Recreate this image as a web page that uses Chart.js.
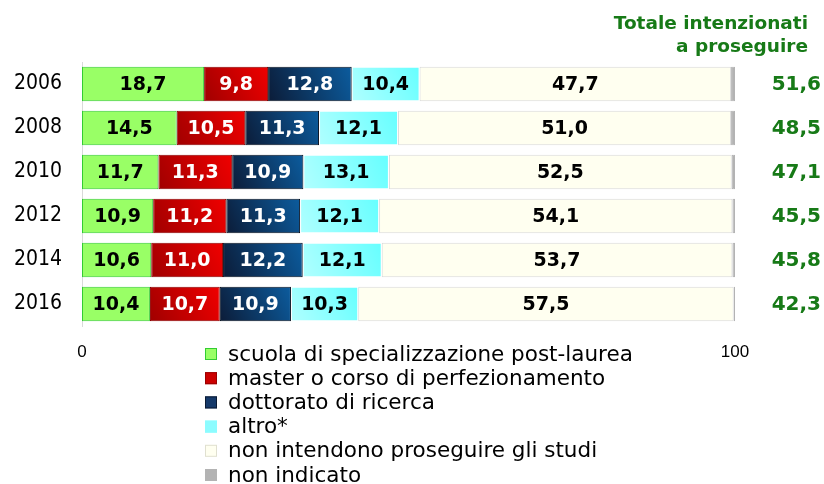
<!DOCTYPE html>
<html>
<head>
<meta charset="utf-8">
<script src="https://cdn.jsdelivr.net/npm/chart.js@4/dist/chart.umd.min.js"></script>
<style>
  html, body { margin: 0; padding: 0; background: #fff; }
</style>
</head>
<body>
<canvas id="myChart" width="824" height="484"></canvas>
<script>
const years = ['2006', '2008', '2010', '2012', '2014', '2016'];
const scuola = [18.7, 14.5, 11.7, 10.9, 10.6, 10.4];
const master = [9.8, 10.5, 11.3, 11.2, 11.0, 10.7];
const dottorato = [12.8, 11.3, 10.9, 11.3, 12.2, 10.9];
const altro = [10.4, 12.1, 13.1, 12.1, 12.1, 10.3];
const nonProseguono = [47.7, 51.0, 52.5, 54.1, 53.7, 57.5];
const nonIndicato = [0.6, 0.6, 0.5, 0.4, 0.4, 0.2];
const totale = [51.6, 48.5, 47.1, 45.5, 45.8, 42.3];
const xTicks = [0, 100];

const COND = '"DejaVu Sans Condensed", "DejaVu Sans", sans-serif';
const SANS = '"DejaVu Sans", sans-serif';
const green = '#177a17';
const HALF = 17; // half bar thickness in px, used only for gradients

const fmt = v => v.toFixed(1).replace('.', ',');

// gradient fill for a bar: dark at lower left, light at upper right
function barGradient(from, to) {
    return function (context) {
        const chart = context.chart;
        const xs = chart.scales.x, ys = chart.scales.y;
        if (!xs || !ys || context.dataIndex === undefined) return from;
        const i = context.dataIndex;
        let start = 0;
        for (let d = 0; d < context.datasetIndex; d++) start += chart.data.datasets[d].data[i];
        const end = start + context.raw;
        const x0 = xs.getPixelForValue(start), x1 = xs.getPixelForValue(end);
        const yc = ys.getPixelForValue(i);
        if (![x0, x1, yc].every(Number.isFinite)) return from;
        const g = chart.ctx.createLinearGradient(x0, yc + HALF, x1, yc - HALF);
        g.addColorStop(0, from);
        g.addColorStop(1, to);
        return g;
    };
}

// value labels inside bars + totals column + legend
const extras = {
    id: 'extras',
    afterDatasetsDraw(chart) {
        const c = chart.ctx;
        c.save();
        c.textBaseline = 'middle';

        // labels inside the bars
        c.font = 'bold 19px ' + SANS;
        c.textAlign = 'center';
        chart.data.datasets.forEach((ds, di) => {
            if (!ds.labelColor) return;
            chart.getDatasetMeta(di).data.forEach((bar, i) => {
                c.fillStyle = ds.labelColor;
                c.fillText(fmt(ds.data[i]), (bar.x + bar.base) / 2, bar.y + 1);
            });
        });

        // totals on the right
        const ys = chart.scales.y;
        c.fillStyle = green;
        c.textAlign = 'right';
        c.font = 'bold 18.5px ' + SANS;
        c.fillText('Totale intenzionati', 808, 24);
        c.fillText('a proseguire', 808, 47);
        c.font = 'bold 20px ' + SANS;
        totale.forEach((v, i) => {
            c.fillText(fmt(v), 821, ys.getPixelForValue(i) + 1);
        });

        // legend
        c.textAlign = 'left';
        c.font = '21.5px ' + SANS;
        chart.data.datasets.forEach((ds, di) => {
            const y = 354 + di * 24.2;
            c.fillStyle = ds.legendColor;
            c.fillRect(205, y - 6, 12, 12);
            c.strokeStyle = ds.legendBorder;
            c.lineWidth = 1;
            c.strokeRect(205.5, y - 5.5, 11, 11);
            c.fillStyle = '#000';
            c.fillText(ds.label, 228, y + 1);
        });
        c.restore();
    }
};

new Chart(document.getElementById('myChart'), {
    type: 'bar',
    data: {
        labels: years,
        datasets: [
            { label: 'scuola di specializzazione post-laurea', data: scuola,
              backgroundColor: '#99ff66', borderColor: '#33cc33',
              legendColor: '#99ff66', legendBorder: '#33cc33', labelColor: '#000' },
            { label: 'master o corso di perfezionamento', data: master,
              backgroundColor: barGradient('#a00000', '#f00000'), borderColor: '#8a0000',
              legendColor: '#cc0000', legendBorder: '#990000', labelColor: '#fff' },
            { label: 'dottorato di ricerca', data: dottorato,
              backgroundColor: barGradient('#0c1c38', '#0c5c9e'), borderColor: '#061020',
              legendColor: '#15396a', legendBorder: '#0a1a33', labelColor: '#fff' },
            { label: 'altro*', data: altro,
              backgroundColor: barGradient('#b0ffff', '#66ffff'), borderColor: 'rgba(0,0,0,0)',
              legendColor: '#8cfcff', legendBorder: '#8cfcff', labelColor: '#000' },
            { label: 'non intendono proseguire gli studi', data: nonProseguono,
              backgroundColor: '#fffff0', borderColor: '#d9d9d9',
              legendColor: '#fffff0', legendBorder: '#e0e0d0', labelColor: '#000' },
            { label: 'non indicato', data: nonIndicato,
              backgroundColor: '#b3b3b3', borderColor: '#b3b3b3',
              legendColor: '#b3b3b3', legendBorder: '#b3b3b3' }
        ]
    },
    options: {
        responsive: false,
        animation: false,
        indexAxis: 'y',
        layout: {
            padding: { top: 62, right: 89, bottom: 124, left: 0 }
        },
        datasets: {
            bar: {
                borderWidth: 1,
                borderSkipped: false,
                categoryPercentage: 0.78,
                barPercentage: 1
            }
        },
        scales: {
            x: {
                stacked: true,
                min: 0,
                max: 100,
                grid: { display: false, drawTicks: false },
                border: { display: false },
                afterBuildTicks(scale) {
                    scale.ticks = xTicks.map(v => ({ value: v }));
                },
                afterFit(scale) { scale.height = 34; },
                ticks: {
                    padding: 16,
                    color: '#000',
                    font: { family: '"Liberation Sans", Arial, sans-serif', size: 17 }
                }
            },
            y: {
                stacked: true,
                grid: { display: false, drawTicks: false },
                border: { display: true, color: '#d9d9d9', width: 1 },
                afterFit(scale) { scale.width = 82; },
                ticks: {
                    padding: 20,
                    color: '#000',
                    font: { family: COND, size: 21 }
                }
            }
        },
        plugins: {
            legend: { display: false },
            tooltip: { enabled: false }
        }
    },
    plugins: [extras]
});
</script>
</body>
</html>
